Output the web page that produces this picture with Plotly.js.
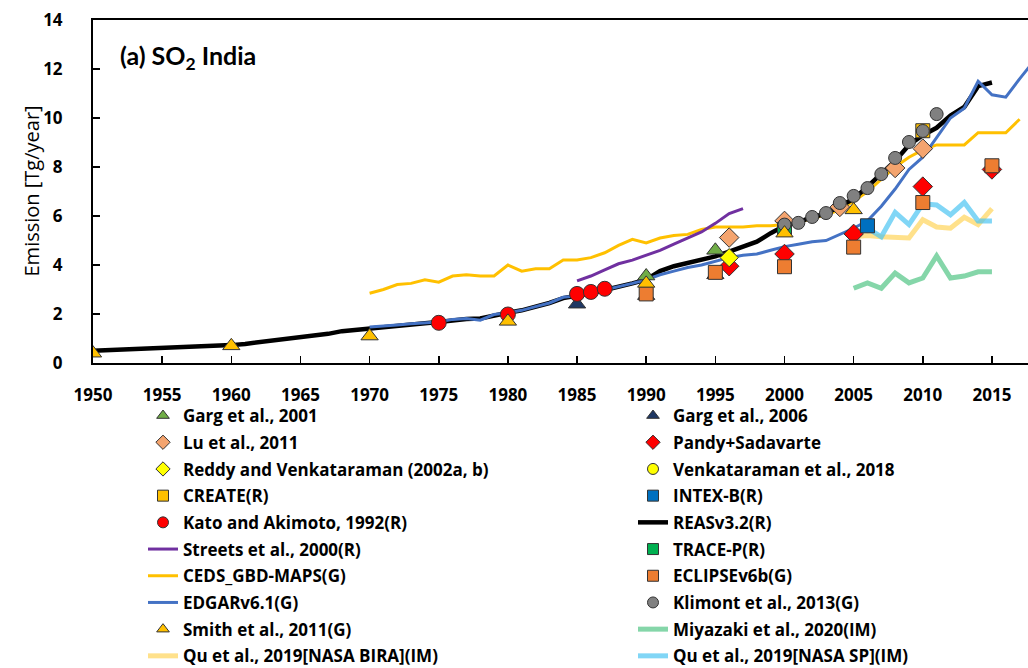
<!DOCTYPE html>
<html>
<head>
<meta charset="utf-8">
<script src="https://cdn.plot.ly/plotly-3.0.1.min.js"></script>
<style>
html,body{margin:0;padding:0;overflow:hidden;background:#fff;}
#chart{width:1100px;height:668px;}
</style>
</head>
<body>
<div id="chart"></div>
<script>
// ---- Data ----
const reasYears = [1950,1951,1952,1953,1954,1955,1956,1957,1958,1959,1960,1961,1962,1963,1964,1965,1966,1967,1968,1969,1970,1971,1972,1973,1974,1975,1976,1977,1978,1979,1980,1981,1982,1983,1984,1985,1986,1987,1988,1989,1990,1991,1992,1993,1994,1995,1996,1997,1998,1999,2000,2001,2002,2003,2004,2005,2006,2007,2008,2009,2010,2011,2012,2013,2014,2015];
const reasValues = [0.50,0.52,0.54,0.56,0.58,0.60,0.62,0.64,0.67,0.70,0.73,0.78,0.85,0.94,1.00,1.05,1.11,1.19,1.30,1.36,1.40,1.45,1.50,1.56,1.62,1.67,1.75,1.80,1.82,1.95,2.05,2.15,2.30,2.45,2.65,2.74,2.85,2.98,3.10,3.25,3.40,3.75,3.95,4.08,4.20,4.35,4.55,4.75,4.95,5.30,5.60,5.75,5.95,6.10,6.40,6.70,7.20,7.75,8.25,8.90,9.30,9.60,10.10,10.45,11.30,11.45];

const edgarYears = [1970,1971,1972,1973,1974,1975,1976,1977,1978,1979,1980,1981,1982,1983,1984,1985,1986,1987,1988,1989,1990,1991,1992,1993,1994,1995,1996,1997,1998,1999,2000,2001,2002,2003,2004,2005,2006,2007,2008,2009,2010,2011,2012,2013,2014,2015,2016,2017,2018];
const edgarValues = [1.47,1.50,1.55,1.60,1.62,1.67,1.78,1.82,1.75,1.98,2.05,2.15,2.30,2.45,2.68,2.74,2.85,2.98,3.10,3.25,3.40,3.60,3.75,3.90,4.00,4.15,4.30,4.40,4.45,4.60,4.75,4.85,4.95,5.00,5.25,5.50,5.80,6.40,7.10,7.90,8.40,9.20,10.00,10.40,11.50,10.95,10.85,11.60,12.30];

const cedsYears = [1970,1971,1972,1973,1974,1975,1976,1977,1978,1979,1980,1981,1982,1983,1984,1985,1986,1987,1988,1989,1990,1991,1992,1993,1994,1995,1996,1997,1998,1999,2000,2001,2002,2003,2004,2005,2006,2007,2008,2009,2010,2011,2012,2013,2014,2015,2016,2017];
const cedsValues = [2.85,3.00,3.20,3.25,3.40,3.30,3.55,3.60,3.55,3.55,4.00,3.75,3.85,3.85,4.20,4.20,4.30,4.50,4.80,5.05,4.90,5.10,5.20,5.25,5.45,5.55,5.55,5.55,5.60,5.60,5.65,5.75,5.90,6.05,6.25,6.60,7.00,7.50,8.00,8.40,8.70,8.90,8.90,8.90,9.40,9.40,9.40,9.95];

const streetsYears = [1985,1986,1987,1988,1989,1990,1991,1992,1993,1994,1995,1996,1997];
const streetsValues = [3.35,3.55,3.80,4.05,4.20,4.40,4.60,4.85,5.10,5.35,5.70,6.10,6.30];

const miyazakiYears = [2005,2006,2007,2008,2009,2010,2011,2012,2013,2014,2015];
const miyazakiValues = [3.05,3.27,3.05,3.67,3.27,3.47,4.37,3.47,3.55,3.72,3.72];

const quBiraYears = [2005,2006,2007,2008,2009,2010,2011,2012,2013,2014,2015];
const quBiraValues = [5.15,5.20,5.15,5.15,5.10,5.85,5.55,5.50,5.95,5.65,6.30];

const quSpYears = [2005,2006,2007,2008,2009,2010,2011,2012,2013,2014,2015];
const quSpValues = [5.30,5.50,5.15,6.15,5.65,6.50,6.45,6.05,6.55,5.80,5.80];

const garg2001Years = [1990,1995];
const garg2001Values = [3.55,4.60];

const garg2006Years = [1985,1990,1995];
const garg2006Values = [2.40,2.75,3.60];

const luYears = [1996,2000,2004,2008,2010];
const luValues = [5.12,5.80,6.37,7.96,8.75];

const pandyYears = [1996,2000,2005,2010,2015];
const pandyValues = [3.95,4.45,5.27,7.20,7.90];

const reddyYears = [1996];
const reddyValues = [4.30];

const venkatYears = [1996];
const venkatValues = [4.30];

const createYears = [2010];
const createValues = [9.48];

const intexYears = [2006];
const intexValues = [5.60];

const katoYears = [1975,1980,1985,1986,1987];
const katoValues = [1.64,1.98,2.82,2.90,3.03];

const tracepYears = [2000];
const tracepValues = [5.45];

const eclipseYears = [1990,1995,2000,2005,2010,2015];
const eclipseValues = [2.82,3.70,3.93,4.73,6.55,8.05];

const klimontYears = [2000,2001,2002,2003,2004,2005,2006,2007,2008,2009,2010,2011];
const klimontValues = [5.65,5.72,5.96,6.12,6.53,6.82,7.14,7.71,8.37,9.02,9.47,10.16];

const smithYears = [1950,1960,1970,1980,1990,2000,2005];
const smithValues = [0.40,0.70,1.10,1.70,3.25,5.30,6.25];

const xTickYears = [1950,1955,1960,1965,1970,1975,1980,1985,1990,1995,2000,2005,2010,2015];
const yTickValues = [0,2,4,6,8,10,12,14];

// ---- Traces ----
function lineTrace(name, x, y, color, width, opacity, legend, rank){
  return {type:'scatter', mode:'lines', name:name, x:x, y:y,
    line:{color:color, width:width}, opacity:opacity,
    legend:legend, legendrank:rank, legendgroup:name};
}
const markerTraces = [];
const legendProxies = [];
function markTrace(name, x, y, symbol, color, size, legend, rank){
  // the data trace (drawn in the plot)
  markerTraces.push({type:'scatter', mode:'markers', name:name, x:x, y:y, showlegend:false,
    marker:{symbol:symbol, color:color, size:size, line:{color:'#333333', width:1}},
    legendgroup:name});
  // legend entry with the smaller symbol used in the reference legend
  legendProxies.push({type:'scatter', mode:'markers', name:name, x:[null], y:[null],
    marker:{symbol:symbol, color:color, size:11, line:{color:'#333333', width:1}},
    legend:legend, legendrank:rank, legendgroup:name, hoverinfo:'skip'});
}

const L = 'legend', R = 'legend2';
const lineTraces = [
  lineTrace('CEDS_GBD-MAPS(G)', cedsYears, cedsValues, '#FFC000', 3, 1, L, 7),
  lineTrace('REASv3.2(R)', reasYears, reasValues, '#000000', 4.5, 1, R, 5),
  lineTrace('EDGARv6.1(G)', edgarYears, edgarValues, '#4472C4', 3, 1, L, 8),
  lineTrace('Streets et al., 2000(R)', streetsYears, streetsValues, '#7030A0', 3, 1, L, 6),
  lineTrace('Miyazaki et al., 2020(IM)', miyazakiYears, miyazakiValues, '#5CC88C', 5, 0.75, R, 9),
  lineTrace('Qu et al., 2019[NASA BIRA](IM)', quBiraYears, quBiraValues, '#FFD45A', 5, 0.7, L, 10),
  lineTrace('Qu et al., 2019[NASA SP](IM)', quSpYears, quSpValues, '#4CC4F2', 5, 0.7, R, 10)
];
markTrace('Garg et al., 2006', garg2006Years, garg2006Values, 'triangle-up', '#1F3864', 15, R, 1);
markTrace('Pandy+Sadavarte', pandyYears, pandyValues, 'diamond', '#FF0000', 15, R, 2);
markTrace('ECLIPSEv6b(G)', eclipseYears, eclipseValues, 'square', '#ED7D31', 14, R, 7);
markTrace('Lu et al., 2011', luYears, luValues, 'diamond', '#F4A46E', 15, L, 2);
markTrace('CREATE(R)', createYears, createValues, 'square', '#FFC000', 14, L, 4);
markTrace('TRACE-P(R)', tracepYears, tracepValues, 'square', '#00B050', 14, R, 6);
markTrace('Klimont et al., 2013(G)', klimontYears, klimontValues, 'circle', '#808080', 13, R, 8);
markTrace('Garg et al., 2001', garg2001Years, garg2001Values, 'triangle-up', '#70AD47', 15, L, 1);
markTrace('Kato and Akimoto, 1992(R)', katoYears, katoValues, 'circle', '#FF0000', 15, L, 5);
markTrace('Smith et al., 2011(G)', smithYears, smithValues, 'triangle-up', '#FFC000', 15, L, 9);
markTrace('Venkataraman et al., 2018', venkatYears, venkatValues, 'circle', '#FFFF00', 13, R, 3);
markTrace('Reddy and Venkataraman (2002a, b)', reddyYears, reddyValues, 'diamond', '#FFFF00', 14, L, 3);
markTrace('INTEX-B(R)', intexYears, intexValues, 'square', '#0070C0', 14, R, 4);

const traces = lineTraces.concat(markerTraces, legendProxies);

const FONT = '"Open Sans", Lato, sans-serif';
const TITLE_FONT = 'Lato, "Open Sans", sans-serif';
const legendFont = {family: FONT, size: 17, color: '#000', weight: 'bold'};

const layout = {
  width: 1100, height: 668,
  margin: {l: 93, r: 0, t: 20, b: 305, autoexpand: false},
  paper_bgcolor: '#fff', plot_bgcolor: '#fff',
  showlegend: true,
  xaxis: {
    range: [1950, 1950 + 1007/13.83],
    tickvals: xTickYears, ticktext: xTickYears.map(String), tickangle: 0,
    ticks: 'inside', ticklen: 7, tickwidth: 1.5, tickcolor: '#000',
    showline: true, linecolor: '#000', linewidth: 2, mirror: true,
    showgrid: false, zeroline: false, automargin: false,
    ticklabelstandoff: 16,
    tickfont: {family: FONT, size: 17, color: '#000', weight: 'bold'}
  },
  yaxis: {
    range: [0, 14],
    tickvals: yTickValues,
    ticks: 'inside', ticklen: 7, tickwidth: 1.5, tickcolor: '#000',
    showline: true, linecolor: '#000', linewidth: 2, mirror: true,
    showgrid: false, zeroline: false, automargin: false,
    ticklabelstandoff: 25,
    tickfont: {family: FONT, size: 17, color: '#000', weight: 'bold'}
  },
  legend: {
    x: 143/1100, xref: 'container', xanchor: 'left',
    y: 1 - 398/668, yref: 'container', yanchor: 'top',
    orientation: 'v', font: legendFont, tracegroupgap: 1.6,
    bgcolor: 'rgba(0,0,0,0)', itemwidth: 30
  },
  legend2: {
    x: 633/1100, xref: 'container', xanchor: 'left',
    y: 1 - 398/668, yref: 'container', yanchor: 'top',
    orientation: 'v', font: legendFont, tracegroupgap: 1.6,
    bgcolor: 'rgba(0,0,0,0)', itemwidth: 30
  },
  annotations: [{
    text: '(a) SO<sub>2</sub> India', xref: 'paper', yref: 'paper',
    x: 25/1007, y: 1 - 18/343, xanchor: 'left', yanchor: 'top', showarrow: false,
    font: {family: TITLE_FONT, size: 25, color: '#000', weight: 'bold'}
  }, {
    text: 'Emission [Tg/year]', xref: 'paper', yref: 'paper',
    x: (31 - 93)/1007, y: 0.5, xanchor: 'center', yanchor: 'middle', showarrow: false,
    textangle: -90,
    font: {family: FONT, size: 20, color: '#000'}
  }]
};

Plotly.newPlot('chart', traces, layout, {displayModeBar: false, staticPlot: true});
</script>
</body>
</html>
